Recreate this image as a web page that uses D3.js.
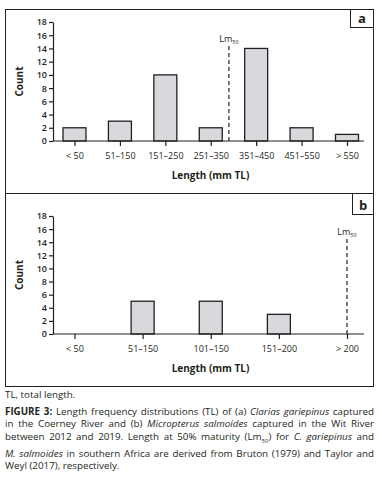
<!DOCTYPE html>
<html>
<head>
<meta charset="utf-8">
<script src="https://cdn.jsdelivr.net/npm/d3@7"></script>
<style>
  body { margin: 0; background: #fff; font-family: "Open Sans", sans-serif; color: #231f20; }
  #caption { position: absolute; left: 5px; top: 389px; width: 369px; font-size: 9.8px; line-height: 12.7px; }
  #caption .ln { display: block; text-align: justify; text-align-last: justify; white-space: nowrap; }
  #caption .last { text-align-last: left; }
  #caption p { margin: 0; }
</style>
</head>
<body>
<div id="my_chart"></div>
<div id="caption">
  <p style="margin-bottom:4px">TL, total length.</p>
  <span class="ln"><b>FIGURE 3:</b> Length frequency distributions (TL) of (a) <i>Clarias gariepinus</i> captured</span>
  <span class="ln">in the Coerney River and (b) <i>Micropterus salmoides</i> captured in the Wit River</span>
  <span class="ln">between 2012 and 2019. Length at 50% maturity (Lm<sub style="font-size:6px">50</sub>) for <i>C. gariepinus</i> and</span>
  <span class="ln"><i>M. salmoides</i> in southern Africa are derived from Bruton (1979) and Taylor and</span>
  <span class="ln last">Weyl (2017), respectively.</span>
</div>
<script>
// data
const catsA = ["< 50", "51–150", "151–250", "251–350", "351–450", "451–550", "> 550"];
const countsA = [2, 3, 10, 2, 14, 2, 1];
const catsB = ["< 50", "51–150", "101–150", "151–200", "> 200"];
const countsB = [0, 5, 5, 3, 0];
const yTicks = [0, 2, 4, 6, 8, 10, 12, 14, 16, 18];
// Lm50 position, in category steps from the first class
const lm50A = 3.4;
const lm50B = 4;

const W = 382, H = 388;
const svg = d3.select("#my_chart").append("svg")
  .attr("width", W).attr("height", H)
  .style("position", "absolute").style("left", 0).style("top", 0);

// frame
svg.append("rect").attr("x", 5.5).attr("y", 9.5).attr("width", 368).attr("height", 377)
  .attr("fill", "none").attr("stroke", "#231f20").attr("stroke-width", 1);
svg.append("line").attr("x1", 5.5).attr("x2", 373.5).attr("y1", 193.5).attr("y2", 193.5)
  .attr("stroke", "#231f20");

const plotLeft = 53, plotRight = 364;

function panel(cats, counts, lmPos, yTop, yBottom, letter, letterBox) {
  const g = svg.append("g");
  const x = d3.scalePoint().domain(cats).range([74.5, 347]);
  const y = d3.scaleLinear().domain([0, 18]).range([yBottom, yTop]);
  const step = x.step();

  // bars
  g.selectAll("rect.bar")
    .data(cats.map((c, i) => ({ c: c, v: counts[i] })).filter(d => d.v > 0))
    .enter().append("rect")
    .attr("class", "bar")
    .attr("x", d => x(d.c) - 11.5)
    .attr("width", 23)
    .attr("y", d => y(d.v))
    .attr("height", d => y(0) - y(d.v))
    .attr("fill", "#d8d9dd")
    .attr("stroke", "#231f20")
    .attr("stroke-width", 1.3);

  // y axis
  const ya = g.append("g").attr("transform", `translate(${plotLeft},0)`)
    .call(d3.axisLeft(y).tickValues(yTicks).tickSize(4).tickSizeOuter(0).tickPadding(2));
  ya.selectAll("text").attr("font-size", "9px").attr("font-family", "Open Sans")
    .attr("font-weight", 600).attr("fill", "#231f20");
  ya.selectAll("line, path").attr("stroke", "#231f20").attr("stroke-width", 1.2);

  // x axis
  const xa = g.append("g").attr("transform", `translate(0,${yBottom})`)
    .call(d3.axisBottom(x).tickSize(5).tickSizeOuter(0).tickPadding(7));
  xa.select(".domain").remove();
  xa.append("line").attr("x1", plotLeft).attr("x2", plotRight).attr("stroke", "#231f20").attr("stroke-width", 1.2);
  xa.selectAll("text").attr("font-size", "9px").attr("font-family", "Open Sans").attr("fill", "#231f20");
  xa.selectAll(".tick line").attr("stroke", "#231f20").attr("stroke-width", 1.2);

  // Lm50 line
  const lx = x(cats[0]) + lmPos * step;
  g.append("line").attr("x1", lx).attr("x2", lx)
    .attr("y1", yBottom).attr("y2", yBottom - 95)
    .attr("stroke", "#231f20").attr("stroke-width", 1.2).attr("stroke-dasharray", "4,3");
  const lt = g.append("text").attr("x", lx).attr("y", yBottom - 99)
    .attr("text-anchor", "middle").attr("font-size", "9px").attr("fill", "#231f20");
  lt.append("tspan").text("Lm");
  lt.append("tspan").attr("font-size", "5.5px").attr("dy", 2).text("50");

  // axis titles
  g.append("text").attr("x", (plotLeft + plotRight) / 2 + 2).attr("y", yBottom + 38)
    .attr("text-anchor", "middle").attr("font-size", "10px").attr("font-weight", "bold")
    .attr("fill", "#231f20").text("Length (mm TL)");
  g.append("text").attr("transform", `translate(23,${(yTop + yBottom) / 2}) rotate(-90)`)
    .attr("text-anchor", "middle").attr("font-size", "10px").attr("font-weight", "bold")
    .attr("fill", "#231f20").text("Count");

  // panel letter
  g.append("rect").attr("x", letterBox[0]).attr("y", letterBox[1])
    .attr("width", 373.5 - letterBox[0]).attr("height", letterBox[2] - letterBox[1])
    .attr("fill", "#fff").attr("stroke", "#231f20");
  g.append("text").attr("x", (letterBox[0] + 373.5) / 2).attr("y", letterBox[2] - 5)
    .attr("text-anchor", "middle").attr("font-size", "13px").attr("font-weight", "bold")
    .attr("fill", "#231f20").text(letter);
}

panel(catsA, countsA, lm50A, 22, 141, "a", [350.5, 9.5, 27.5]);
panel(catsB, countsB, lm50B, 216, 334, "b", [352.5, 193.5, 214.5]);

// squeeze caption lines so the widest one fits the column
let ls = 0;
const lines = document.querySelectorAll("#caption .ln");
function widest() {
  let m = 0;
  lines.forEach(el => {
    const r = document.createRange(); r.selectNodeContents(el);
    m = Math.max(m, r.getBoundingClientRect().width);
  });
  return m;
}
lines.forEach(el => el.style.textAlignLast = "left");
while (widest() > 366 && ls > -1) {
  ls -= 0.05;
  document.getElementById("caption").style.letterSpacing = ls + "px";
}
lines.forEach((el, i) => el.style.textAlignLast = i < lines.length - 1 ? "justify" : "left");
</script>
</body>
</html>
